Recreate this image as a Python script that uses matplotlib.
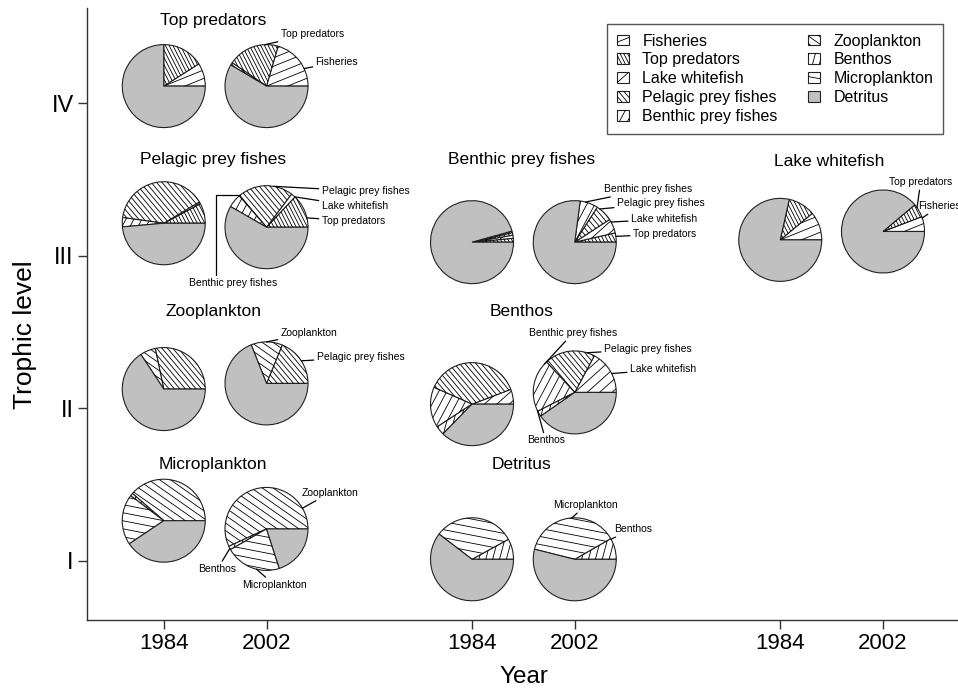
import numpy as np
import matplotlib.pyplot as plt
from matplotlib.collections import LineCollection
from matplotlib.patches import Rectangle
from matplotlib.legend_handler import HandlerBase

plt.rcParams['font.family'] = ['Liberation Sans', 'DejaVu Sans']

categories = ['Fisheries', 'Top predators', 'Lake whitefish', 'Pelagic prey fishes',
              'Benthic prey fishes', 'Zooplankton', 'Benthos', 'Microplankton', 'Detritus']
years = ['1984', '2002']
year_ticks = [1, 2, 4, 5, 7, 8]
level_ticks = [1, 2, 3, 4]
level_labels = ['I', 'II', 'III', 'IV']

# diet shares, in the order of categories
top_predators_1984 = [0.09, 0.16, 0, 0, 0, 0, 0, 0, 0.75]
top_predators_2002 = [0.205, 0.20, 0, 0.01, 0, 0, 0, 0, 0.585]
pelagic_1984 = [0, 0.078, 0.008, 0.392, 0.036, 0, 0, 0, 0.486]
pelagic_2002 = [0, 0.13, 0.017, 0.217, 0.053, 0, 0, 0, 0.583]
benthic_1984 = [0, 0.015, 0.012, 0.01, 0.006, 0, 0, 0, 0.957]
benthic_2002 = [0, 0.036, 0.056, 0.067, 0.07, 0, 0, 0, 0.771]
whitefish_1984 = [0.11, 0.105, 0, 0, 0, 0, 0, 0, 0.785]
whitefish_2002 = [0.058, 0.053, 0, 0, 0, 0, 0, 0, 0.889]
zooplankton_1984 = [0, 0, 0, 0.283, 0, 0.06, 0, 0, 0.657]
zooplankton_2002 = [0, 0, 0, 0.188, 0, 0.122, 0, 0, 0.69]
benthos_1984 = [0, 0, 0.058, 0.376, 0.158, 0, 0.035, 0, 0.373]
benthos_2002 = [0, 0, 0.172, 0.197, 0.206, 0, 0.022, 0, 0.403]
microplankton_1984 = [0, 0, 0, 0, 0, 0.386, 0.011, 0.197, 0.406]
microplankton_2002 = [0, 0, 0, 0, 0, 0.569, 0.014, 0.217, 0.2]
detritus_1984 = [0, 0, 0, 0, 0, 0, 0.08, 0.316, 0.604]
detritus_2002 = [0, 0, 0, 0, 0, 0, 0.083, 0.378, 0.539]

# hatch per category: line angle (deg) and gap (in pie radii); None = grey fill
hatch_angle = [22, -63, 42, -50, 62, -35, 75, -11, None]
hatch_gap = [0.19, 0.08, 0.2, 0.1, 0.17, 0.15, 0.16, 0.19, None]

# name, x of the 1984 pie, trophic level, pies, title lift, pie lifts
groups = [
    ('Top predators', 1, 4, [top_predators_1984, top_predators_2002], 0.54, [0.113, 0.113]),
    ('Pelagic prey fishes', 1, 3, [pelagic_1984, pelagic_2002], 0.634, [0.214, 0.188]),
    ('Benthic prey fishes', 4, 3, [benthic_1984, benthic_2002], 0.634, [0.09, 0.09]),
    ('Lake whitefish', 7, 3, [whitefish_1984, whitefish_2002], 0.62, [0.105, 0.16]),
    ('Zooplankton', 1, 2, [zooplankton_1984, zooplankton_2002], 0.638, [0.127, 0.164]),
    ('Benthos', 4, 2, [benthos_1984, benthos_2002], 0.638, [0.028, 0.105]),
    ('Microplankton', 1, 1, [microplankton_1984, microplankton_2002], 0.633, [0.264, 0.21]),
    ('Detritus', 4, 1, [detritus_1984, detritus_2002], 0.633, [0.011, 0.011]),
]

# labels on the 2002 pies: group, text, angle where leader meets pie, text offset (px), ha
pie_notes = [
    (0, 'Top predators', 92, 14, 52, 'left'),
    (0, 'Fisheries', 25, 49, 24, 'left'),
    (1, 'Pelagic prey fishes', 80, 55, 36, 'left'),
    (1, 'Lake whitefish', 47, 55, 21, 'left'),
    (1, 'Top predators', 13, 55, 6, 'left'),
    (1, 'Benthic prey fishes', 130, -33, -56, 'center'),
    (2, 'Benthic prey fishes', 75, 29, 53, 'left'),
    (2, 'Pelagic prey fishes', 53, 42, 39, 'left'),
    (2, 'Lake whitefish', 29, 56, 23, 'left'),
    (2, 'Top predators', 8, 58, 8, 'left'),
    (3, 'Top predators', 35, 6, 49, 'left'),
    (3, 'Fisheries', 19, 35, 25, 'left'),
    (4, 'Zooplankton', 90, 14, 50, 'left'),
    (4, 'Pelagic prey fishes', 33, 50, 26, 'left'),
    (5, 'Benthic prey fishes', 137, -2, 59, 'center'),
    (5, 'Pelagic prey fishes', 73, 29, 43, 'left'),
    (5, 'Lake whitefish', 27, 55, 23, 'left'),
    (5, 'Benthos', 206, -29, -48, 'center'),
    (6, 'Zooplankton', 30, 35, 36, 'left'),
    (6, 'Benthos', -152, -49, -40, 'center'),
    (6, 'Microplankton', 256, 8, -56, 'center'),
    (7, 'Microplankton', 94, 11, 54, 'center'),
    (7, 'Benthos', 29, 39, 30, 'left'),
]

W, H, DPI = 958, 689, 100
R = 41.5  # pie radius in pixels
GREY = '#c0c0c0'


def hatch_segments(angle, gap, half):
    t = np.deg2rad(angle)
    d = np.array([np.cos(t), np.sin(t)])
    n = np.array([-np.sin(t), np.cos(t)])
    k = int(np.ceil(1.5 * half / gap))
    return [np.array([j * gap * n - 1.5 * half * d, j * gap * n + 1.5 * half * d])
            for j in range(-k, k + 1)]


def draw_pie(a, fracs):
    idx = [i for i, f in enumerate(fracs) if f > 0]
    vals = [fracs[i] for i in idx]
    wedges, _ = a.pie(vals, startangle=0, counterclock=True, radius=1,
                      colors=[GREY if hatch_angle[i] is None else 'white' for i in idx],
                      wedgeprops=dict(edgecolor='#222222', linewidth=0.8))
    for w, i in zip(wedges, idx):
        if hatch_angle[i] is None:
            continue
        lc = LineCollection(hatch_segments(hatch_angle[i], hatch_gap[i], 1.1),
                            colors='black', linewidths=0.6)
        a.add_collection(lc)
        lc.set_clip_path(w)
    a.set_xlim(-1.05, 1.05)
    a.set_ylim(-1.05, 1.05)
    a.axis('off')


class HatchKey:
    def __init__(self, i):
        self.i = i


class HatchHandler(HandlerBase):
    def create_artists(self, legend, key, xdescent, ydescent, width, height, fontsize, trans):
        i = key.i
        x0, y0 = -xdescent, -ydescent
        face = GREY if hatch_angle[i] is None else 'white'
        box = Rectangle((x0, y0), width, height, facecolor=face, edgecolor='#222222',
                        linewidth=0.8, transform=trans)
        arts = [box]
        if hatch_angle[i] is not None:
            gap = hatch_gap[i] * R * 72 / DPI
            segs = [s + [x0 + width / 2, y0 + height / 2]
                    for s in hatch_segments(hatch_angle[i], gap, max(width, height))]
            lc = LineCollection(segs, colors='black', linewidths=0.6, transform=trans)
            lc.set_clip_path(box)
            arts.append(lc)
        return arts


fig = plt.figure(figsize=(W / DPI, H / DPI), dpi=DPI)
ax = fig.add_axes([87 / W, 1 - 620 / H, (W - 87) / W, (620 - 8) / H])
ax.set_xlim(0.253, 8.73)
ax.set_ylim(0.613, 4.625)
for s in ['top', 'right']:
    ax.spines[s].set_visible(False)
for s in ['left', 'bottom']:
    ax.spines[s].set_linewidth(1.0)
    ax.spines[s].set_color('#333333')
ax.set_xticks(year_ticks, years * 3)
ax.set_yticks(level_ticks, level_labels)
ax.tick_params(length=6.5, width=1.0, color='#333333', labelsize=16, pad=3)
ax.tick_params(axis='y', labelsize=17)
ax.set_xlabel('Year', fontsize=17.5)
ax.xaxis.set_label_coords(0.502, -0.075)
ax.set_ylabel('Trophic level', fontsize=19)
ax.yaxis.set_label_coords(-0.057, 0.466)

pie_axes = []
for name, x0, level, pies, tlift, lifts in groups:
    ax.text(x0 + 0.48, level + tlift, name, ha='center', va='center', fontsize=12.5)
    row = []
    for k, fracs in enumerate(pies):
        px, py = ax.transData.transform((x0 + k, level + lifts[k]))
        s = 1.05 * R
        a = fig.add_axes([(px - s) / W, (py - s) / H, 2 * s / W, 2 * s / H])
        draw_pie(a, fracs)
        row.append(a)
    pie_axes.append(row)

for g, text, ang, dx, dy, ha in pie_notes:
    a = pie_axes[g][1]
    t = np.deg2rad(ang)
    props = dict(arrowstyle='-', color='black', lw=0.9, shrinkA=0, shrinkB=0)
    if g == 1 and ha == 'center':
        props.update(connectionstyle='angle,angleA=90,angleB=0,rad=0', relpos=(0.3, 1.0))
    a.annotate(text, xy=(np.cos(t), np.sin(t)), xytext=(dx / R, dy / R),
               ha=ha, va='center', fontsize=7.5, annotation_clip=False,
               arrowprops=props)

handles = [HatchKey(i) for i in range(len(categories))]
leg = fig.legend(handles, categories, handler_map={HatchKey: HatchHandler()},
                 loc='upper right', bbox_to_anchor=(943 / W, 1 - 24 / H),
                 bbox_transform=fig.transFigure, borderaxespad=0, ncol=2,
                 fontsize=11.5, handlelength=0.75, handleheight=0.65,
                 handletextpad=0.85, columnspacing=1.9, labelspacing=0.24,
                 borderpad=0.6, fancybox=False, framealpha=1, edgecolor='#555555')
leg.get_frame().set_linewidth(1.0)

fig.savefig('out.png', dpi=DPI)
